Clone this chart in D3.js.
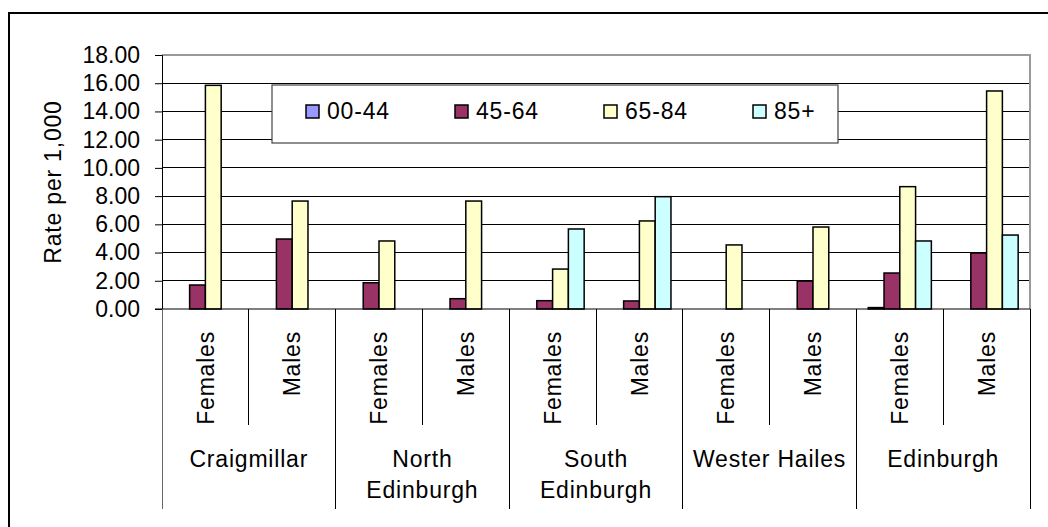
<!DOCTYPE html>
<html>
<head>
<meta charset="utf-8">
<script src="https://cdn.jsdelivr.net/npm/d3@7"></script>
<style>
  html, body { margin: 0; padding: 0; background: #fff; }
  svg { display: block; font-family: "Liberation Sans", Arial, sans-serif; }
  .lbl { letter-spacing: 0.8px; }
</style>
</head>
<body>
<svg id="chart" width="1048" height="527"></svg>
<script>
// Hospital admission rates per 1,000, by area, sex and age band
const regions = ["Craigmillar", "North\nEdinburgh", "South\nEdinburgh", "Wester Hailes", "Edinburgh"];
const sexes = ["Females", "Males"];
const ageBands = ["00-44", "45-64", "65-84", "85+"];
const bandColors = ["#9999FF", "#993366", "#FFFFCC", "#CCFFFF"];

// One value per column: Craigmillar F/M, North F/M, South F/M, Wester Hailes F/M, Edinburgh F/M
const rate0044 = [0, 0, 0, 0, 0, 0, 0, 0, 0.10, 0];
const rate4564 = [1.70, 4.96, 1.86, 0.73, 0.59, 0.57, 0, 1.98, 2.55, 3.97];
const rate6584 = [15.85, 7.65, 4.82, 7.65, 2.83, 6.24, 4.54, 5.81, 8.67, 15.45];
const rate85 = [0, 0, 0, 0, 5.67, 7.96, 0, 0, 4.82, 5.24];

const yTicks = [0, 2, 4, 6, 8, 10, 12, 14, 16, 18];
const yTitle = "Rate per 1,000";

const seriesValues = [rate0044, rate4564, rate6584, rate85];

const columns = [];
regions.forEach((r, ri) => sexes.forEach((s, si) => columns.push({ region: r, sex: s, key: ri + "|" + s })));

const svg = d3.select("#chart");
const FONT = 23;

const plot = { left: 162, right: 1030, top: 55, bottom: 309 };

// outer chart frame
svg.append("rect")
  .attr("x", 9).attr("y", 13)
  .attr("width", 1100).attr("height", 600)
  .attr("fill", "#fff").attr("stroke", "#000").attr("stroke-width", 2);

const x0 = d3.scaleBand()
  .domain(columns.map(c => c.key))
  .range([plot.left, plot.right])
  .padding(0);

const x1 = d3.scaleBand()
  .domain(ageBands)
  .range([0, x0.bandwidth()])
  .paddingInner(0)
  .paddingOuter(0.75);

const y = d3.scaleLinear()
  .domain([0, 18])
  .range([plot.bottom, plot.top]);

// gridlines
svg.append("g")
  .selectAll("line")
  .data(yTicks.filter(t => t > 0 && t < 18))
  .join("line")
  .attr("x1", plot.left).attr("x2", plot.right)
  .attr("y1", d => y(d)).attr("y2", d => y(d))
  .attr("stroke", "#000").attr("stroke-width", 1)
  .attr("shape-rendering", "crispEdges");

// plot area border (top and right)
svg.append("path")
  .attr("d", `M${plot.left},${y(18)}H${plot.right}V${plot.bottom}`)
  .attr("fill", "none").attr("stroke", "#999").attr("stroke-width", 2);

// bars
const barG = svg.append("g");
ageBands.forEach((band, bi) => {
  barG.append("g")
    .selectAll("rect")
    .data(columns.map((c, ci) => ({ col: c, v: seriesValues[bi][ci] })).filter(d => d.v > 0))
    .join("rect")
    .attr("x", d => x0(d.col.key) + x1(band))
    .attr("y", d => y(d.v))
    .attr("width", x1.bandwidth())
    .attr("height", d => y(0) - y(d.v))
    .attr("fill", bandColors[bi])
    .attr("stroke", "#000")
    .attr("stroke-width", 1.5);
});

// y axis
const yAxis = d3.axisLeft(y)
  .tickValues(yTicks)
  .tickFormat(d3.format(".2f"))
  .tickSize(7)
  .tickPadding(15);

const yg = svg.append("g")
  .attr("transform", `translate(${plot.left},0)`)
  .call(yAxis);
yg.select(".domain").attr("stroke", "#000").attr("stroke-width", 1);
yg.selectAll(".tick line").attr("stroke", "#000");
yg.selectAll(".tick text")
  .attr("font-size", FONT)
  .attr("font-family", "Liberation Sans, Arial, sans-serif")
  .attr("fill", "#000");

// x axis baseline
svg.append("line")
  .attr("x1", plot.left - 7).attr("x2", plot.right)
  .attr("y1", plot.bottom).attr("y2", plot.bottom)
  .attr("stroke", "#000").attr("stroke-width", 1.2);

// y axis title
svg.append("text")
  .attr("class", "lbl")
  .attr("transform", `translate(61,${(plot.top + plot.bottom) / 2}) rotate(-90)`)
  .attr("text-anchor", "middle")
  .attr("font-size", FONT)
  .text(yTitle);

// category dividers: short ones between sexes, long ones between regions
const subBottom = 425, groupBottom = 509;
const edges = columns.map(c => x0(c.key)).concat([plot.right]);
svg.append("g")
  .selectAll("line")
  .data(edges)
  .join("line")
  .attr("x1", d => d).attr("x2", d => d)
  .attr("y1", plot.bottom)
  .attr("y2", (d, i) => (i % 2 === 0 ? groupBottom : subBottom))
  .attr("stroke", (d, i) => (i === 0 ? "#666" : "#000"))
  .attr("stroke-width", 1)
  .attr("shape-rendering", "crispEdges");

// sex labels
svg.append("g")
  .selectAll("text")
  .data(columns)
  .join("text")
  .attr("class", "lbl")
  .attr("transform", d => `translate(${x0(d.key) + x0.bandwidth() / 2},331) rotate(-90)`)
  .attr("text-anchor", "end")
  .attr("dy", "0.36em")
  .attr("font-size", FONT)
  .text(d => d.sex);

// region labels
const regionG = svg.append("g");
regions.forEach((r, ri) => {
  const cx = x0(ri + "|" + sexes[0]) + x0.bandwidth();
  const t = regionG.append("text")
    .attr("class", "lbl")
    .attr("text-anchor", "middle")
    .attr("font-size", FONT);
  r.split("\n").forEach((line, li) => {
    t.append("tspan").attr("x", cx).attr("y", 467 + li * 31).text(line);
  });
});

// legend
const legend = { x: 272, y: 85, w: 566, h: 58 };
const lg = svg.append("g");
lg.append("rect")
  .attr("x", legend.x).attr("y", legend.y)
  .attr("width", legend.w).attr("height", legend.h)
  .attr("fill", "#fff").attr("stroke", "#444").attr("stroke-width", 1.2);
const item = lg.selectAll("g.item")
  .data(ageBands)
  .join("g")
  .attr("class", "item")
  .attr("transform", (d, i) => `translate(${306 + i * 149},0)`);
item.append("rect")
  .attr("x", 0).attr("y", 105)
  .attr("width", 13).attr("height", 13)
  .attr("fill", (d, i) => bandColors[i])
  .attr("stroke", "#000").attr("stroke-width", 1.5);
item.append("text")
  .attr("class", "lbl")
  .attr("x", 21).attr("y", 119)
  .attr("font-size", FONT)
  .text(d => d);
</script>
</body>
</html>
